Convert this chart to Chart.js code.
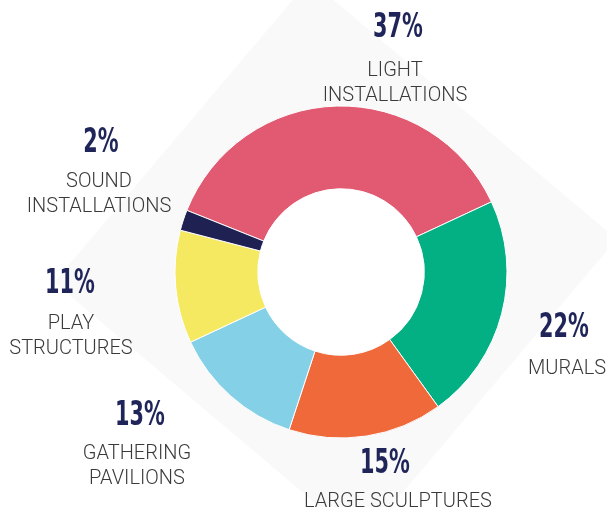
<!DOCTYPE html>
<html>
<head>
<meta charset="utf-8">
<script src="https://cdn.jsdelivr.net/npm/chart.js@4.4.1/dist/chart.umd.min.js"></script>
<style>
  html, body { margin: 0; padding: 0; background: #ffffff; }
  #wrap { width: 607px; height: 507px; position: relative; }
</style>
</head>
<body>
<div id="wrap"><canvas id="c" width="607" height="507"></canvas></div>
<script>
// ---- data ----
const categories = ['LIGHT INSTALLATIONS', 'MURALS', 'LARGE SCULPTURES', 'GATHERING PAVILIONS', 'PLAY STRUCTURES', 'SOUND INSTALLATIONS'];
const labelLines = [['LIGHT', 'INSTALLATIONS'], ['MURALS'], ['LARGE SCULPTURES'], ['GATHERING', 'PAVILIONS'], ['PLAY', 'STRUCTURES'], ['SOUND', 'INSTALLATIONS']];
const shares = [37, 22, 15, 13, 11, 2];
const colors = ['#E15A72', '#02B084', '#EF693B', '#84D1E7', '#F5E961', '#1E2152'];

// ---- label layout (offsets from the doughnut centre) ----
const labelLayout = [
  { pctDx: 57, textDx: 54, dy: -235, gap: 39 },
  { pctDx: 223, textDx: 226, dy: 65, gap: 37 },
  { pctDx: 44, textDx: 57, dy: 201, gap: 34 },
  { pctDx: -201, textDx: -204, dy: 153, gap: 34 },
  { pctDx: -271, textDx: -270, dy: 21, gap: 36 },
  { pctDx: -240, textDx: -242, dy: -120, gap: 35 }
];

const backdrop = {
  id: 'backdrop',
  beforeDraw(chart) {
    const arc = chart.getDatasetMeta(0).data[0];
    if (!arc) return;
    const ctx = chart.ctx;
    ctx.save();
    ctx.translate(arc.x - 5.6, arc.y - 11.2);
    ctx.rotate(40.2 * Math.PI / 180);
    ctx.fillStyle = '#f9f9f9';
    ctx.fillRect(-201, -198, 402, 396);
    ctx.restore();
  },
  beforeDatasetsDraw(chart) {
    const arc = chart.getDatasetMeta(0).data[0];
    if (!arc) return;
    const ctx = chart.ctx;
    ctx.save();
    ctx.beginPath();
    ctx.arc(arc.x, arc.y, arc.innerRadius + 1, 0, Math.PI * 2);
    ctx.fillStyle = '#ffffff';
    ctx.fill();
    ctx.restore();
  }
};

const outerLabels = {
  id: 'outerLabels',
  afterDraw(chart) {
    const arc = chart.getDatasetMeta(0).data[0];
    if (!arc) return;
    const cx = arc.x, cy = arc.y;
    const ctx = chart.ctx;
    ctx.save();
    ctx.textAlign = 'center';
    ctx.textBaseline = 'alphabetic';
    shares.forEach((v, i) => {
      const L = labelLayout[i];
      // percentage (condensed bold)
      ctx.save();
      ctx.translate(cx + L.pctDx, cy + L.dy);
      ctx.scale(0.68, 1);
      ctx.font = "bold 34px 'DejaVu Sans Condensed', 'DejaVu Sans', sans-serif";
      ctx.fillStyle = '#1F2559';
      ctx.fillText(v + '%', 0, 0);
      ctx.restore();
      // category
      ctx.font = "300 20px Roboto, 'Noto Sans', sans-serif";
      ctx.fillStyle = '#3a3a3a';
      labelLines[i].forEach((line, j) => {
        ctx.fillText(line, cx + L.textDx, cy + L.dy + L.gap + j * 24.5);
      });
    });
    ctx.restore();
  }
};

new Chart(document.getElementById('c'), {
  type: 'doughnut',
  data: {
    labels: categories,
    datasets: [{
      data: shares,
      backgroundColor: colors,
      borderColor: '#ffffff',
      borderWidth: 1,
      hoverOffset: 0
    }]
  },
  options: {
    responsive: false,
    animation: false,
    rotation: -68.2,
    radius: 166,
    cutout: 83,
    layout: { padding: { left: 175, right: 100, top: 106, bottom: 69 } },
    plugins: {
      legend: { display: false },
      tooltip: { enabled: false }
    }
  },
  plugins: [backdrop, outerLabels]
});
</script>
</body>
</html>
